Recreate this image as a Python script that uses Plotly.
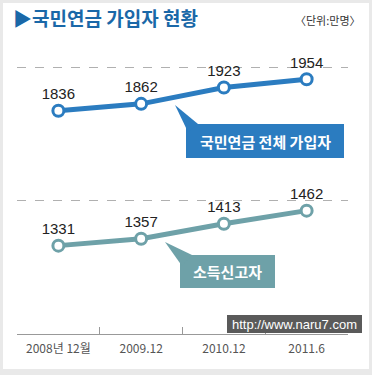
import plotly.graph_objects as go

categories = ["2008년 12월", "2009.12", "2010.12", "2011.6"]
total_members = [1836, 1862, 1923, 1954]
income_reporters = [1331, 1357, 1413, 1462]
grid_values = [1500, 2000]

W, H = 372, 375
L, R, T, B = 17, 348, 59, 334  # plot area in pixels


def px(x):
    return (x - L) / (R - L)


def py(y):
    return (B - y) / (B - T)


BLUE = "#2b7cc0"
TEAL = "#6ea1a8"

fig = go.Figure()
fig.add_trace(go.Scatter(
    x=categories, y=total_members, mode="lines+markers+text",
    text=[str(v) for v in total_members], textposition="top center",
    textfont=dict(family="Liberation Sans, Arial", size=15, color="#222"),
    line=dict(color=BLUE, width=5),
    marker=dict(size=11, color="white", line=dict(color=BLUE, width=3)),
    cliponaxis=False, showlegend=False, hoverinfo="skip"))
fig.add_trace(go.Scatter(
    x=categories, y=income_reporters, mode="lines+markers+text",
    text=[str(v) for v in income_reporters], textposition="top center",
    textfont=dict(family="Liberation Sans, Arial", size=15, color="#222"),
    line=dict(color=TEAL, width=5),
    marker=dict(size=11, color="white", line=dict(color=TEAL, width=3)),
    cliponaxis=False, showlegend=False, hoverinfo="skip"))

shapes = [
    # white card inside gray frame
    dict(type="rect", xref="paper", yref="paper", layer="below",
         x0=px(3), x1=px(369), y0=py(369), y1=py(3),
         fillcolor="white", line=dict(width=0)),
    # callout top
    dict(type="rect", xref="paper", yref="paper",
         x0=px(186), x1=px(344), y0=py(158), y1=py(124),
         fillcolor=BLUE, line=dict(width=0)),
    dict(type="path", xref="paper", yref="paper",
         path=f"M {px(175)},{py(105)} L {px(188)},{py(132)} L {px(198)},{py(124)} Z",
         fillcolor=BLUE, line=dict(width=0)),
    # callout bottom
    dict(type="rect", xref="paper", yref="paper",
         x0=px(180), x1=px(275), y0=py(288), y1=py(255),
         fillcolor=TEAL, line=dict(width=0)),
    dict(type="path", xref="paper", yref="paper",
         path=f"M {px(165)},{py(242)} L {px(182)},{py(266)} L {px(192)},{py(255)} Z",
         fillcolor=TEAL, line=dict(width=0)),
    # watermark box
    dict(type="rect", xref="paper", yref="paper",
         x0=px(227), x1=px(362), y0=py(333), y1=py(315),
         fillcolor="#5a5a5a", line=dict(width=0)),
]

annotations = [
    dict(text="<b>▶국민연금 가입자 현황</b>", xref="paper", yref="paper",
         x=px(11), y=py(18), xanchor="left", yanchor="middle", showarrow=False,
         font=dict(family="Noto Sans CJK KR", size=19, color="#1a68a8")),
    dict(text="〈단위:만명〉", xref="paper", yref="paper",
         x=px(363), y=py(20), xanchor="right", yanchor="middle", showarrow=False,
         font=dict(family="Noto Sans CJK KR", size=11, color="#333")),
    dict(text="<b>국민연금 전체 가입자</b>", xref="paper", yref="paper",
         x=px(265), y=py(141), xanchor="center", yanchor="middle", showarrow=False,
         font=dict(family="Noto Sans CJK KR", size=15, color="white")),
    dict(text="<b>소득신고자</b>", xref="paper", yref="paper",
         x=px(227.5), y=py(271.5), xanchor="center", yanchor="middle", showarrow=False,
         font=dict(family="Noto Sans CJK KR", size=15, color="white")),
    dict(text="http://www.naru7.com", xref="paper", yref="paper",
         x=px(294.5), y=py(324), xanchor="center", yanchor="middle", showarrow=False,
         font=dict(family="Liberation Sans, Arial", size=13, color="white")),
]

fig.update_layout(
    width=W, height=H,
    margin=dict(l=L, r=W - R, t=T, b=H - B, pad=0, autoexpand=False),
    paper_bgcolor="#e9e9e9", plot_bgcolor="white",
    shapes=shapes, annotations=annotations,
    xaxis=dict(type="category", tickson="boundaries", ticks="inside", ticklen=7,
               tickcolor="#999", showline=True, linecolor="#999", linewidth=1,
               showgrid=False, range=[-0.5, 3.5], fixedrange=True, tickangle=0,
               automargin=False, ticklabelstandoff=4,
               tickfont=dict(family="Liberation Sans Narrow, Noto Sans CJK KR", size=12, color="#555")),
    yaxis=dict(range=[1000, 2030], tickvals=grid_values, showticklabels=False,
               showgrid=True, gridcolor="#b0b0b0", griddash="dash", gridwidth=1,
               zeroline=False, showline=False, ticks="", fixedrange=True,
               automargin=False),
)

fig.write_html("out.html", config={"displayModeBar": False},
               post_script="document.body.style.margin='0';")
